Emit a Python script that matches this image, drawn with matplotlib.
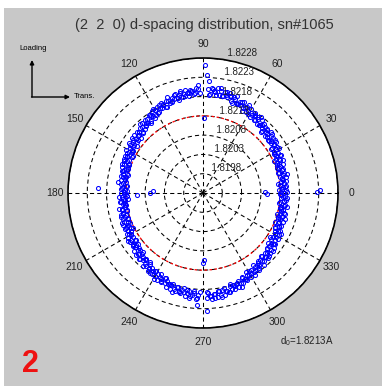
import numpy as np
import matplotlib
matplotlib.use("Agg")
from matplotlib import pyplot as plt
from matplotlib.patches import Rectangle

plt.rcParams['font.family'] = ['Liberation Sans', 'DejaVu Sans']
plt.rcParams['mathtext.default'] = 'regular'

# d-spacing at each azimuth (deg), stored as 1e-5 A above 1.82000 ; nan = no point
theta_deg = np.arange(0, 360)
d_off = [
    141, 131, 146, 136, 138, 145, 130, 142, 134, 140,
    137, 148, 133, 143, 147, 132, 143, 147, 138, 142,
    150, 141, 136, 148, 146, 140, 155, 143, 149, 141,
    143, 152, 156, 142, 153, 161, 149, 152, 161, 148,
    159, 150, 166, 156, 158, 166, 152, 164, 157, 163,
    160, 172, 158, 169, 174, 160, 171, 176, 168, 172,
    181, 173, 168, 181, 179, 174, 189, 178, 184, 177,
    179, 188, 192, 180, 191, 199, 187, 191, 199, 186,
    198, 188, 204, 193, 196, 203, 188, 200, np.nan, np.nan,
    np.nan, np.nan, 190, 199, 202, 187, 197, 200, 191, 193,
    201, 191, 184, 196, 192, 185, 198, 185, 188, 179,
    179, 186, 188, 173, 182, 188, 174, 176, 183, 168,
    178, 167, 181, 169, 170, 176, 160, 170, 160, 165,
    160, 170, 155, 163, 166, 150, 159, 163, 153, 155,
    162, 153, 146, 157, 154, 147, 160, 147, 152, 143,
    143, 150, 153, 138, 148, 154, 141, 143, 151, 136,
    147, 137, 151, 140, 142, 148, 133, 144, 135, 141,
    136, 146, 131, 140, 143, 128, 138, 142, 132, 135,
    143, 134, 128, 141, 138, 132, 146, 135, 140, 132,
    135, 143, 146, 133, 143, 150, 138, 141, 149, 136,
    147, 137, 153, 142, 145, 152, 138, 149, 142, 148,
    145, 157, 143, 152, 157, 143, 154, 158, 150, 154,
    162, 154, 149, 162, 159, 154, 169, 158, 164, 156,
    158, 167, 171, 159, 170, 178, 166, 170, 179, 166,
    178, 169, 185, 175, 178, 186, 172, 184, 177, 184,
    181, 193, 179, 190, 195, 181, 192, 197, 188, 192,
    201, 192, 187, 199, 197, 191, 205, 194, np.nan, np.nan,
    np.nan, np.nan, 203, 189, 198, 205, 192, 194, 202, 187,
    198, 187, 201, 190, 191, 197, 181, 191, 181, 186,
    181, 191, 175, 183, 186, 170, 179, 182, 172, 174,
    181, 171, 164, 175, 171, 164, 177, 164, 167, 158,
    158, 165, 168, 153, 162, 168, 154, 157, 164, 149,
    159, 149, 163, 151, 153, 159, 143, 153, 145, 150,
    145, 155, 140, 148, 152, 136, 146, 149, 140, 142,
    150, 141, 134, 143, 143, 136, 150, 138, 142, 134,
    135, 142, 145, 131, 140, 147, 134, 137, 144, 130,
]

# second pass, half-degree offset azimuths 0.5, 2.5, ... 358.5
theta2_deg = np.arange(0.5, 360, 2.0)
d_off2 = [
    148, 128, 143, 126, 147,  137, 152, 134, 144, 131,
    135, 154, 133, 152, 143,  160, 140, 154, 162, 148,
    166, 148, 163, 148, 170,  160, 177, 161, 172, 161,
    166, 186, 166, 186, 178,  196, 176, 192, 200, 186,
    205, 186, 201, 184, np.nan,  np.nan, 209, 189, 197, 183,
    185, 202, 178, 194, 181,  195, 171, 182, 186, 169,
    184, 162, 174, 155, 173,  159, 173, 152, 160, 145,
    147, 163, 140, 156, 145,  159, 136, 148, 153, 137,
    154, 133, 146, 129, 148,  136, 151, 131, 140, 126,
    129, 148, 126, 145, 135,  152, 131, 144, 151, 136,
    154, 135, 150, 134, 155,  146, 162, 145, 155, 144,
    148, 167, 147, 167, 158,  176, 156, 172, 180, 167,
    186, 168, 184, 169, 191,  182, 199, 183, 194, 182,
    186, 205, 184, 202, np.nan,  np.nan, 187, 199, 204, 188,
    204, 183, 195, 176, 193,  180, 193, 172, 179, 164,
    165, 181, 157, 173, 161,  174, 151, 162, 167, 150,
    166, 144, 157, 138, 157,  144, 158, 138, 146, 132,
    135, 152, 129, 147, 136,  151, 129, 141, 147, 131,
]
d_spacing = 1.82 + np.array(d_off, dtype=float) * 1e-5
d_spacing2 = 1.82 + np.array(d_off2, dtype=float) * 1e-5

# stray points off the main band
out_theta = [89, 88, 87, 89, 272, 267, 268, 271, 270, 1, 359, 0.5, 1.5, 177, 182, 180, 178]
out_d = [1.82262, 1.82236, 1.82220, 1.82124, 1.82236, 1.82220, 1.82187, 1.82104,
         1.82112, 1.82091, 1.82095, 1.82226, 1.82233, 1.82202, 1.82101, 1.82067, 1.82060]

d0 = 1.8213
rmin, rmax = 1.8193, 1.8228
ring_vals = [1.8198, 1.8203, 1.8208, 1.8213, 1.8218, 1.8223, 1.8228]
angle_ticks = [0, 30, 60, 90, 120, 150, 180, 210, 240, 270, 300, 330]

W, H = 382, 386
fig = plt.figure(figsize=(W / 100, H / 100), dpi=100)
fig.patch.set_facecolor('white')
fig.add_artist(Rectangle((4 / W, 0), 1, 1 - 8 / H, transform=fig.transFigure,
                         facecolor='#c8c8c8', edgecolor='none', zorder=-10))

cx, cy, R = 203, 193, 135
ax = fig.add_axes([(cx - R) / W, (H - cy - R) / H, 2 * R / W, 2 * R / H], projection='polar')
ax.set_facecolor('white')
ax.set_rlim(rmin, rmax)
ax.set_xticks(np.deg2rad(angle_ticks))
ax.set_xticklabels([])
ax.set_yticks(ring_vals)
ax.set_yticklabels([])
ax.grid(True, color='k', linestyle=(0, (4, 3)), linewidth=0.75)
ax.spines['polar'].set_color('k')
ax.spines['polar'].set_linewidth(1.2)
ax.tick_params(length=0)

# data
mk = dict(linestyle='none', marker='o', mfc='none', mec='#0000ff', ms=2.9, mew=0.75, zorder=5)
ax.plot(np.deg2rad(theta_deg), d_spacing, **mk)
ax.plot(np.deg2rad(theta2_deg), d_spacing2, **mk)
ax.plot(np.deg2rad(out_theta), out_d, **mk)

# reference d0 circle
tt = np.linspace(0, 2 * np.pi, 400)
ax.plot(tt, np.full_like(tt, d0), color='#ff0000', linestyle=(0, (2, 2)), lw=0.9, zorder=4)

# radial labels like matlab polar (at 82 deg)
rinc = 0.0005
for v in ring_vals:
    ax.text(np.deg2rad(82), v + rinc / 20, '  ' + f'{v:.4f}', ha='left', va='bottom',
            fontsize=7, color='#222222', zorder=6)

# angle labels
for a in angle_ticks:
    ax.text(np.deg2rad(a), rmin + 1.1 * (rmax - rmin), str(a), ha='center', va='center',
            fontsize=7.5, color='#222222', clip_on=False)

fig.text(204 / W, 1 - 25 / H, '(2  2  0) d-spacing distribution, sn#1065',
         ha='center', va='center', fontsize=10.5, color='#333333')
fig.text(280 / W, 1 - 341 / H, r'd$_0$=1.8213A', ha='left', va='center',
         fontsize=7, color='#222222')
fig.text(30 / W, 1 - 364 / H, '2', ha='center', va='center', fontsize=22,
         fontweight='bold', color='#ee1111')

# loading / transverse directions
ap = dict(arrowstyle='-|>', color='k', lw=1, mutation_scale=6, shrinkA=0, shrinkB=0)
ax.annotate('', xy=(32, H - 60), xytext=(32, H - 97), xycoords='figure pixels',
            textcoords='figure pixels', arrowprops=ap)
ax.annotate('', xy=(70, H - 97), xytext=(31.5, H - 97), xycoords='figure pixels',
            textcoords='figure pixels', arrowprops=ap)
fig.text(33 / W, 1 - 48 / H, 'Loading', ha='center', va='center', fontsize=5.5)
fig.text(74 / W, 1 - 96 / H, 'Trans.', ha='left', va='center', fontsize=5.5)

fig.savefig('out.png', dpi=100)
